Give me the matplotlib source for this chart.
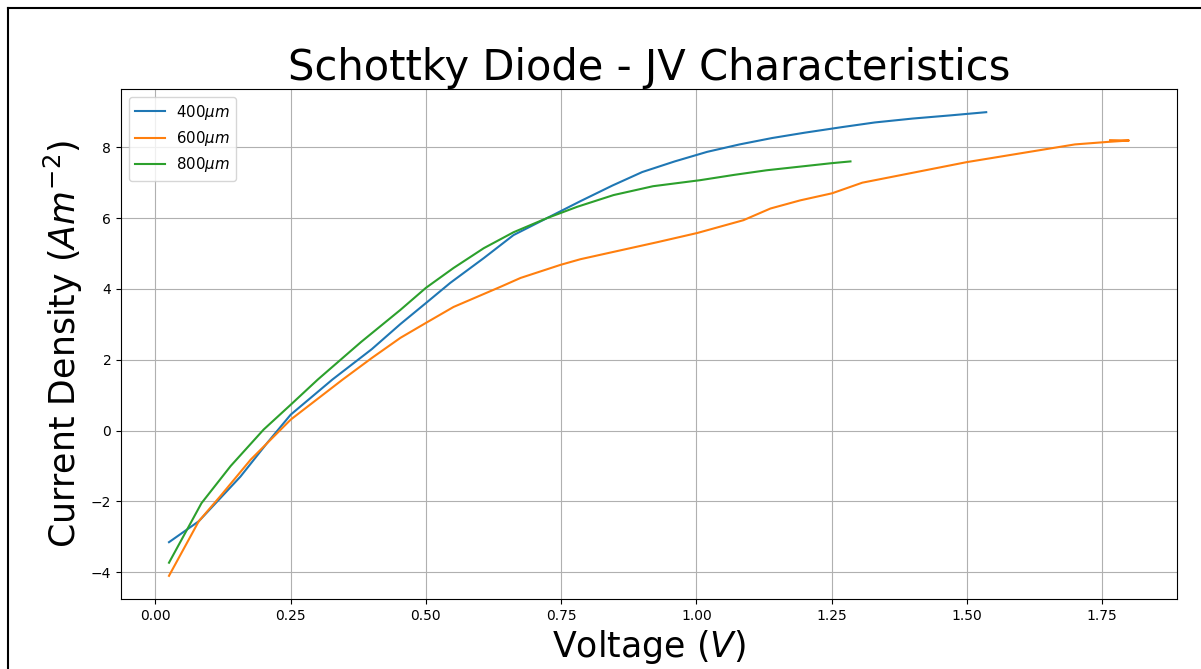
import numpy as np
import matplotlib.pyplot as plt
from matplotlib.lines import Line2D

# JV data, per diode diameter
v_400 = [0.025, 0.08, 0.157, 0.207, 0.25, 0.327, 0.40, 0.453, 0.5, 0.545, 0.607, 0.662,
         0.724, 0.786, 0.845, 0.9, 0.96, 1.02, 1.08, 1.14, 1.2, 1.27, 1.33, 1.4, 1.47, 1.536]
j_400 = [-3.15, -2.56, -1.3, -0.34, 0.45, 1.44, 2.3, 3.01, 3.6, 4.17, 4.87, 5.52,
         6.0, 6.48, 6.92, 7.3, 7.6, 7.87, 8.08, 8.26, 8.41, 8.57, 8.7, 8.81, 8.9, 8.99]

v_600 = [0.025, 0.08, 0.12, 0.176, 0.25, 0.346, 0.40, 0.453, 0.5, 0.551, 0.638, 0.675,
         0.749, 0.786, 0.854, 0.928, 1.002, 1.087, 1.137, 1.192, 1.251, 1.307, 1.377,
         1.5, 1.636, 1.7, 1.76, 1.80, 1.765]
j_600 = [-4.1, -2.56, -1.85, -0.82, 0.31, 1.44, 2.05, 2.62, 3.04, 3.49, 4.06, 4.31,
         4.68, 4.84, 5.07, 5.32, 5.58, 5.94, 6.27, 6.5, 6.7, 7.0, 7.21,
         7.58, 7.92, 8.08, 8.15, 8.19, 8.2]

v_800 = [0.025, 0.085, 0.139, 0.2, 0.25, 0.3, 0.38, 0.453, 0.5, 0.551, 0.607, 0.662,
         0.724, 0.78, 0.847, 0.92, 1.007, 1.07, 1.13, 1.19, 1.25, 1.285]
j_800 = [-3.73, -2.05, -1.0, 0.03, 0.73, 1.44, 2.5, 3.41, 4.03, 4.59, 5.15, 5.6,
         6.0, 6.32, 6.65, 6.9, 7.07, 7.22, 7.35, 7.45, 7.55, 7.6]

fig = plt.figure(figsize=(12.01, 6.69), dpi=100)
ax = fig.add_axes([121/1201, 70/669, 1056/1201, 510/669])

ax.plot(v_400, j_400, label=r'400$\mu m$')
ax.plot(v_600, j_600, label=r'600$\mu m$')
ax.plot(v_800, j_800, label=r'800$\mu m$')

ax.set_title('Schottky Diode - JV Characteristics', fontsize=30)
ax.set_xlabel(r'Voltage ($V$)', fontsize=25)
ax.set_ylabel(r'Current Density ($Am^{-2}$)', fontsize=25)
ax.grid(True)
ax.legend(loc='upper left', fontsize=10.8)

# frame of the screenshot (left and top edges only)
fig.add_artist(Line2D([8/1201, 8/1201], [0, 1 - 8/669], transform=fig.transFigure,
                      color='black', lw=1.5))
fig.add_artist(Line2D([8/1201, 1], [1 - 8/669, 1 - 8/669], transform=fig.transFigure,
                      color='black', lw=1.5))

fig.savefig('out.png', dpi=100)
